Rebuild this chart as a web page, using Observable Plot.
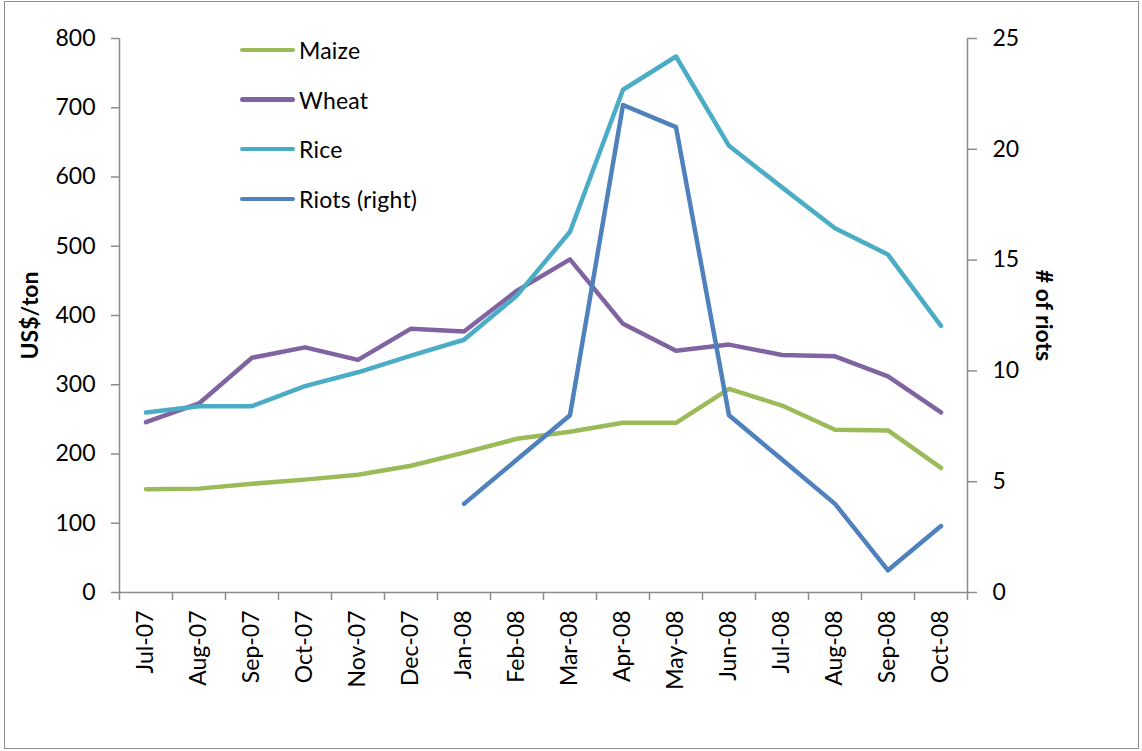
<!DOCTYPE html>
<html>
<head>
<meta charset="utf-8">
<script src="https://cdn.jsdelivr.net/npm/d3@7"></script>
<script src="https://cdn.jsdelivr.net/npm/@observablehq/plot@0.6"></script>
<style>
  html, body { margin: 0; padding: 0; background: #fff; }
  #wrap { position: relative; width: 1142px; height: 751px; font-family: Lato, "Open Sans", sans-serif; }
  #border { position: absolute; left: 4px; top: 1px; width: 1133px; height: 746px; border: 1.5px solid #8c8c8c; pointer-events: none; }
  #legend { position: absolute; left: 240px; top: 36px; font-size: 23px; color: #000; }
  .item { position: absolute; left: 0; height: 28px; display: flex; align-items: center; white-space: nowrap; letter-spacing: 0.2px; }
  .sw { width: 55px; height: 4.5px; border-radius: 3px; margin-right: 4px; }
</style>
</head>
<body>
<div id="wrap"><div id="chart"></div><div id="legend"></div><div id="border"></div></div>
<script>
const months = ["Jul-07","Aug-07","Sep-07","Oct-07","Nov-07","Dec-07","Jan-08","Feb-08","Mar-08","Apr-08","May-08","Jun-08","Jul-08","Aug-08","Sep-08","Oct-08"];
const maize = [149,150,157,163,170,183,202,222,232,245,245,294,270,235,234,180];
const wheat = [246,273,339,354,336,381,377,436,481,388,349,358,343,341,312,260];
const rice  = [260,269,269,298,318,342,365,429,521,726,774,645,585,526,488,385];
const riots = [null,null,null,null,null,null,4,6,8,22,21,8,6,4,1,3];
const leftTicks = [0,100,200,300,400,500,600,700,800];
const rightTicks = [0,5,10,15,20,25];

const seriesNames = ["Maize","Wheat","Rice","Riots (right)"];
const colors = ["#9BBB59","#8064A2","#4BACC6","#4F81BD"];

const priceMax = 800, riotMax = 25;
const k = priceMax / riotMax;

const rows = [];
months.forEach((m, i) => {
  rows.push({i, s: "Maize", v: maize[i]});
  rows.push({i, s: "Wheat", v: wheat[i]});
  rows.push({i, s: "Rice", v: rice[i]});
});
const riotRows = months.map((m, i) => ({i, s: "Riots (right)", v: riots[i] == null ? NaN : riots[i] * k})).filter(d => !isNaN(d.v));

const axisColor = "#8c8c8c";
const fs = 23;

const chart = Plot.plot({
  width: 1142,
  height: 751,
  marginLeft: 119,
  marginRight: 175,
  marginTop: 38,
  marginBottom: 159,
  style: {fontFamily: "Lato, 'Open Sans', sans-serif", fontSize: fs + "px", color: "#000", background: "transparent"},
  x: {type: "linear", domain: [-0.5, months.length - 0.5]},
  y: {domain: [0, priceMax]},
  color: {domain: seriesNames, range: colors},
  marks: [
    Plot.ruleY([0], {stroke: axisColor, strokeWidth: 1.5}),
    Plot.ruleX([-0.5], {stroke: axisColor, strokeWidth: 1.5}),
    Plot.ruleX([months.length - 0.5], {stroke: axisColor, strokeWidth: 1.5}),
    Plot.axisY({anchor: "left", ticks: leftTicks, tickSize: 8, tickPadding: 16, stroke: axisColor, strokeWidth: 1.5, label: null, fontSize: fs}),
    Plot.axisY({anchor: "right", ticks: rightTicks.map(v => v * k), tickFormat: d => d / k, tickSize: 9, tickPadding: 16, stroke: axisColor, strokeWidth: 1.5, label: null, fontSize: fs}),
    Plot.axisX({ticks: d3.range(-0.5, months.length, 1), tickSize: 8, tickFormat: () => "", stroke: axisColor, strokeWidth: 1.5, label: null}),
    Plot.axisX({ticks: d3.range(months.length), tickSize: 0, tickPadding: 18, tickRotate: -90, tickFormat: i => months[i], label: null, fontSize: fs}),
    Plot.line(rows, {x: "i", y: "v", z: "s", stroke: "s", strokeWidth: 4.5, strokeLinecap: "round", strokeLinejoin: "round"}),
    Plot.line(riotRows, {x: "i", y: "v", stroke: "s", strokeWidth: 4.5, strokeLinecap: "round", strokeLinejoin: "round"}),
    Plot.text(["US$/ton"], {frameAnchor: "left", textAnchor: "middle", dx: -89, rotate: -90, fontWeight: "bold", fontSize: fs, fill: "#000"}),
    Plot.text(["# of riots"], {frameAnchor: "right", textAnchor: "middle", dx: 76, rotate: 90, fontWeight: "bold", fontSize: fs, fill: "#000"})
  ]
});
document.getElementById("chart").appendChild(chart);

const legend = document.getElementById("legend");
seriesNames.forEach((n, j) => {
  const it = document.createElement("div");
  it.className = "item";
  it.style.top = (j * 49.6) + "px";
  const sw = document.createElement("div");
  sw.className = "sw";
  sw.style.background = colors[j];
  const t = document.createElement("span");
  t.textContent = n;
  it.appendChild(sw); it.appendChild(t);
  legend.appendChild(it);
});
</script>
</body>
</html>
